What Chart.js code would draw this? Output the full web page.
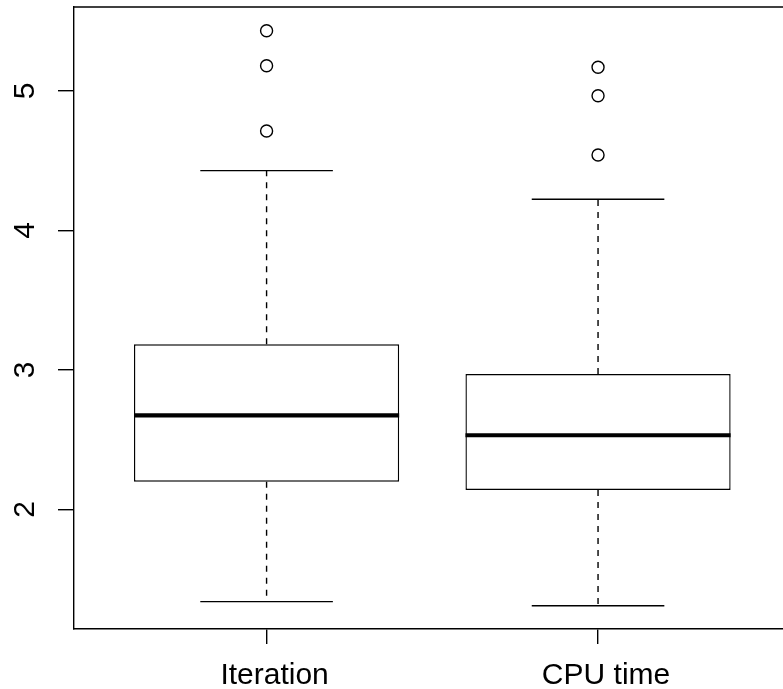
<!DOCTYPE html>
<html>
<head>
<meta charset="utf-8">
<script src="https://cdn.jsdelivr.net/npm/chart.js@4/dist/chart.umd.min.js"></script>
<style>
  html, body { margin: 0; padding: 0; background: #fff; overflow: hidden; }
  canvas { display: block; }
</style>
</head>
<body>
<canvas id="box-chart" width="783" height="689"></canvas>
<script>
// Boxplot: Iteration vs CPU time (R style)
const groups = ['Iteration', 'CPU time']
const lowerWhisker = [1.339, 1.310]
const lowerQuartile = [2.199, 2.140]
const medians = [2.675, 2.532]
const upperQuartile = [3.184, 2.971]
const upperWhisker = [4.429, 4.224]
const outliers = [
  [4.713, 5.181, 5.432],
  [4.541, 4.966, 5.170]
]
const yTicks = [2, 3, 4, 5]

;(function () {
  const ink = '#000'
  const lw = 1.4
  const capHalf = 0.2
  const boxHalf = 0.4

  function seg (x1, y1, x2, y2, extra) {
    return Object.assign({
      type: 'line',
      data: [{ x: x1, y: y1 }, { x: x2, y: y2 }],
      borderColor: ink,
      borderWidth: lw,
      pointRadius: 0,
      tension: 0,
      fill: false,
      order: 1
    }, extra || {})
  }

  const datasets = []
  groups.forEach((g, i) => {
    const x = i + 1
    datasets.push(seg(x - boxHalf, medians[i], x + boxHalf, medians[i], { borderWidth: 4.2, order: 0, borderCapStyle: 'butt' }))
    datasets.push(seg(x, upperQuartile[i], x, upperWhisker[i], { borderDash: [6, 6] }))
    datasets.push(seg(x, lowerQuartile[i], x, lowerWhisker[i], { borderDash: [6, 6] }))
    datasets.push(seg(x - capHalf, upperWhisker[i], x + capHalf, upperWhisker[i]))
    datasets.push(seg(x - capHalf, lowerWhisker[i], x + capHalf, lowerWhisker[i]))
  })

  datasets.push({
    type: 'scatter',
    data: outliers.flatMap((arr, i) => arr.map(v => ({ x: i + 1, y: v }))),
    pointRadius: 6,
    pointBorderWidth: lw,
    pointBorderColor: ink,
    pointBackgroundColor: 'rgba(0,0,0,0)',
    showLine: false,
    order: 1
  })

  datasets.push({
    type: 'bar',
    data: groups.map((g, i) => ({ x: i + 1, y: [lowerQuartile[i], upperQuartile[i]] })),
    backgroundColor: '#fff',
    borderColor: ink,
    borderWidth: lw,
    borderSkipped: false,
    barPercentage: 0.8,
    categoryPercentage: 1,
    order: 10
  })

  const topFrame = {
    id: 'topFrame',
    afterDraw (chart) {
      const { ctx, chartArea } = chart
      ctx.save()
      ctx.strokeStyle = ink
      ctx.lineWidth = lw
      ctx.beginPath()
      ctx.moveTo(chartArea.left, chartArea.top)
      ctx.lineTo(chartArea.right, chartArea.top)
      ctx.stroke()
      ctx.restore()
    }
  }

  const font = { family: "'Liberation Sans', Arial, sans-serif", size: 30 }

  new Chart(document.getElementById('box-chart'), {
    type: 'bar',
    data: { datasets },
    plugins: [topFrame],
    options: {
      responsive: false,
      animation: false,
      devicePixelRatio: 1,
      layout: { autoPadding: false, padding: { top: 7, right: 0, left: 0, bottom: 0 } },
      plugins: { legend: { display: false }, tooltip: { enabled: false } },
      scales: {
        x: {
          type: 'linear',
          min: 0.419,
          max: 2.558,
          offset: false,
          afterBuildTicks: s => { s.ticks = groups.map((g, i) => ({ value: i + 1 })) },
          afterFit: s => { s.height = 60; s.paddingLeft = 0; s.paddingRight = 0 },
          ticks: {
            callback: v => groups[v - 1],
            font,
            color: ink,
            padding: 14,
            labelOffset: 8,
            maxRotation: 0,
            autoSkip: false
          },
          grid: { offset: false, drawOnChartArea: false, drawTicks: true, tickLength: 15, color: ink, lineWidth: lw },
          border: { display: true, color: ink, width: lw }
        },
        y: {
          type: 'linear',
          min: 1.143,
          max: 5.602,
          afterBuildTicks: s => { s.ticks = yTicks.map(v => ({ value: v })) },
          afterFit: s => { s.width = 74; s.paddingTop = 0; s.paddingBottom = 0 },
          ticks: {
            font,
            color: ink,
            minRotation: 90,
            maxRotation: 90,
            crossAlign: 'center',
            padding: 24,
            autoSkip: false
          },
          grid: { drawOnChartArea: false, drawTicks: true, tickLength: 16, color: ink, lineWidth: lw },
          border: { display: true, color: ink, width: lw }
        }
      }
    }
  })
})()
</script>
</body>
</html>
